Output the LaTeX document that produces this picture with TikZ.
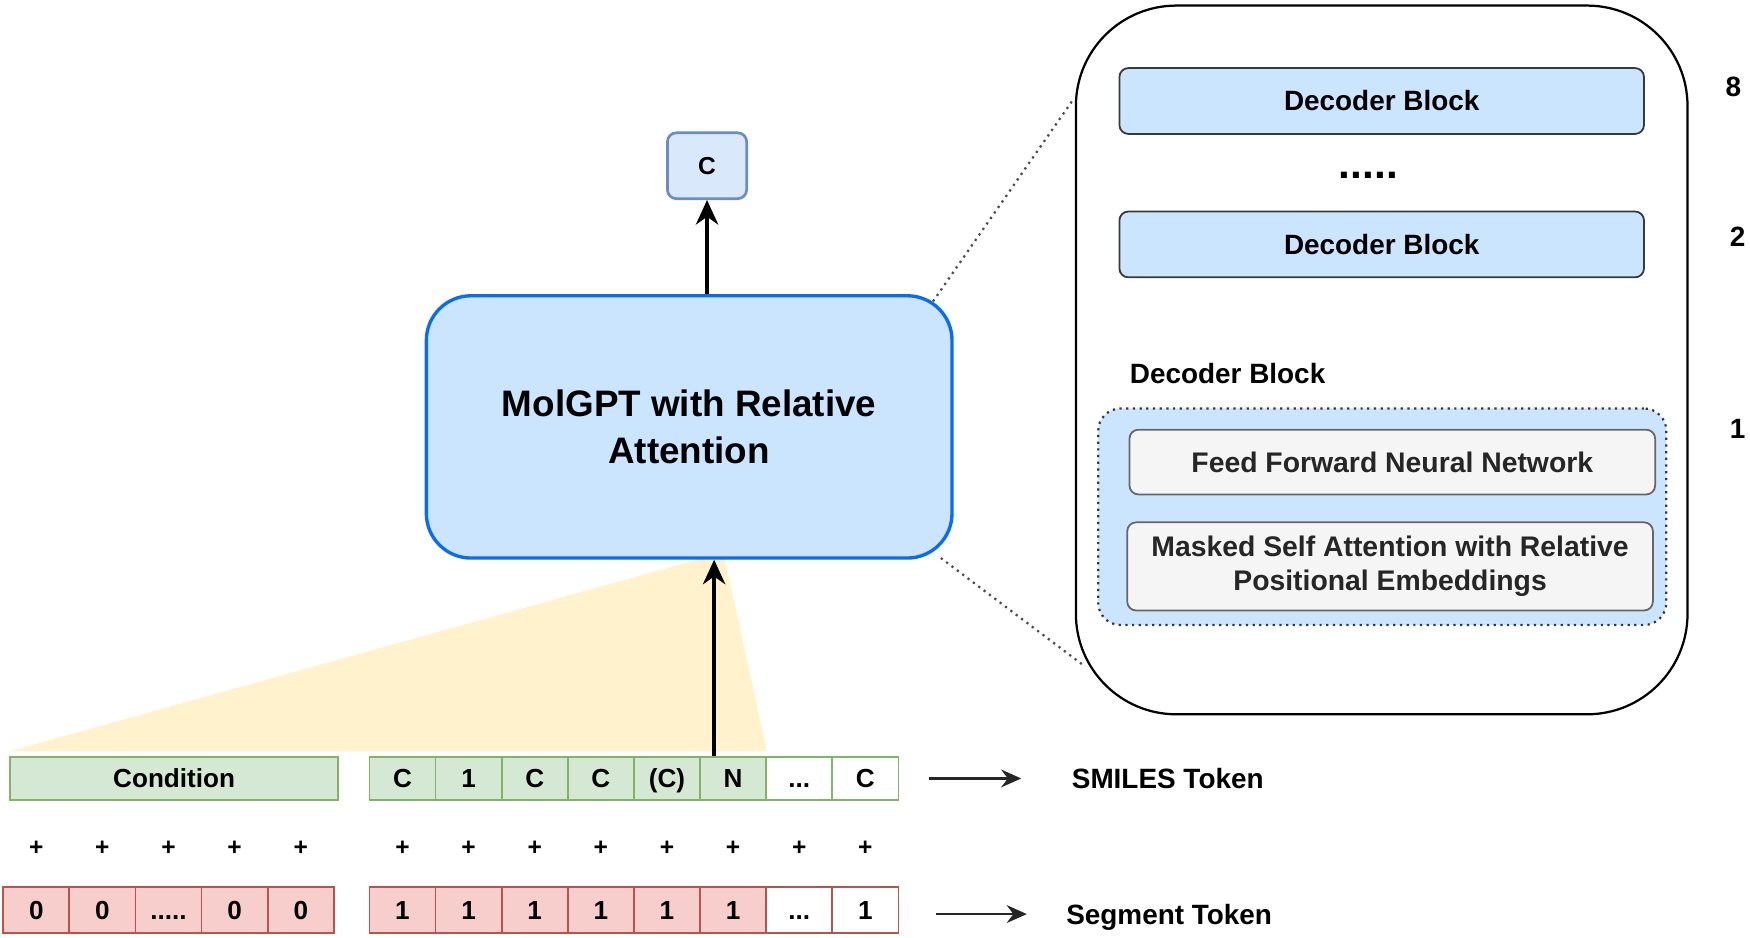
\documentclass[tikz,border=0pt]{standalone}
\usepackage{fontspec}
\setmainfont{Liberation Sans}
\usetikzlibrary{positioning, arrows.meta}

\definecolor{molfill}{HTML}{CCE5FF}
\definecolor{molline}{HTML}{0A6CF0}
\definecolor{outfill}{HTML}{DAE8FC}
\definecolor{outline}{HTML}{6C8EBF}
\definecolor{fanfill}{HTML}{FFF2CC}
\definecolor{smifill}{HTML}{D5E8D4}
\definecolor{smiline}{HTML}{82B366}
\definecolor{segfill}{HTML}{F8CECC}
\definecolor{segline}{HTML}{B85450}
\definecolor{subfill}{HTML}{F5F5F5}
\definecolor{subline}{HTML}{666666}
\definecolor{decline}{HTML}{36393D}

\begin{document}
\begin{tikzpicture}[x=0.5pt, y=-0.5pt, node distance={29.625pt},
  lbl/.style = {inner sep=0pt, font=\bfseries\fontsize{12.5}{15}\selectfont},
  cell/.style = {draw, line width=0.8pt, minimum width=29.625pt, minimum height=19.5pt, inner sep=0pt, text height=8.4pt, text depth=0pt, font=\bfseries\fontsize{11.7}{14}\selectfont},
  smi/.style = {cell, draw=smiline, fill=smifill},
  smiw/.style = {cell, draw=smiline, fill=white},
  seg/.style = {cell, draw=segline, fill=segfill, minimum height=20.5pt},
  segw/.style = {seg, fill=white},
  plussign/.style = {font=\bfseries\fontsize{11}{13}\selectfont},
  decbox/.style = {draw=decline, line width=0.8pt, fill=molfill, rounded corners=4pt, minimum width=235pt, minimum height=29.5pt, lbl},
  subbox/.style = {draw=subline, line width=0.8pt, fill=subfill, rounded corners=4pt, minimum width=235.5pt, align=center, text=black!85, font=\bfseries\fontsize{12.7}{15.5}\selectfont},
  arr/.style = {-{Stealth[length=11pt, width=10pt, inset=3.5pt]}, line width=1.5pt},
  tokarr/.style = {-{Stealth[length=9pt, width=8pt, inset=3pt]}, line width=1pt, black!85},
]
\useasboundingbox (0,0) rectangle (1568,840.4);

% SMILES tokens
\node[smi, minimum width=147pt] (cond) at (156,697.5) {Condition};
\node[smi] (t1) at (360.6,697.5) {C};
\node[smi] (t2) [right of=t1] {1};
\node[smi] (t3) [right of=t2] {C};
\node[smi] (t4) [right of=t3] {C};
\node[smi] (t5) [right of=t4] {(C)};
\node[smi] (t6) [right of=t5] {N};
\node[smiw] (t7) [right of=t6] {...};
\node[smiw] (t8) [right of=t7] {C};

% segment tokens
\node[seg] (s1) at (32.5,815.5) {0};
\node[seg] (s2) [right of=s1] {0};
\node[seg] (s3) [right of=s2] {.....};
\node[seg] (s4) [right of=s3] {0};
\node[seg] (s5) [right of=s4] {0};
\node[seg] (r1) at (360.6,815.5) {1};
\node[seg] (r2) [right of=r1] {1};
\node[seg] (r3) [right of=r2] {1};
\node[seg] (r4) [right of=r3] {1};
\node[seg] (r5) [right of=r4] {1};
\node[seg] (r6) [right of=r5] {1};
\node[segw] (r7) [right of=r6] {...};
\node[segw] (r8) [right of=r7] {1};

% plus signs
\coordinate (prow) at (0,760);
\node[plussign] (p1) at (s1 |- prow) {+};
\node[plussign] (p2) at (s2 |- prow) {+};
\node[plussign] (p3) at (s3 |- prow) {+};
\node[plussign] (p4) at (s4 |- prow) {+};
\node[plussign] (p5) at (s5 |- prow) {+};
\node[plussign] (q1) at (r1 |- prow) {+};
\node[plussign] (q2) at (r2 |- prow) {+};
\node[plussign] (q3) at (r3 |- prow) {+};
\node[plussign] (q4) at (r4 |- prow) {+};
\node[plussign] (q5) at (r5 |- prow) {+};
\node[plussign] (q6) at (r6 |- prow) {+};
\node[plussign] (q7) at (r7 |- prow) {+};
\node[plussign] (q8) at (r8 |- prow) {+};

% token labels
\node[lbl, anchor=west] (smitok) at (960,697.5) {SMILES Token};
\node[lbl, anchor=west] (segtok) at (955,822) {Segment Token};
\draw[tokarr, shorten <=13.5pt, shorten >=22.5pt] (t8.east) -- (t8.east -| smitok.west);
\draw[tokarr, shorten <=16.5pt, shorten >=17.5pt] ([yshift=-1.75pt]r8.east) -- ([yshift=-1.75pt]r8.east -| segtok.west);

% context fan
\coordinate (apex) at (648,495);
\fill[fanfill] ([yshift=2pt]cond.north west) -- ([yshift=2pt]t6.north east) -- (apex) -- cycle;

% model
\node[draw=molline, line width=1.5pt, fill=molfill, rounded corners=20pt, minimum width=235.5pt, minimum height=117.5pt, align=center, font=\bfseries\fontsize{16.5}{21}\selectfont] (molgpt) at (617.5,382.5) {MolGPT with Relative\\Attention};
\node[draw=outline, line width=1.2pt, fill=outfill, rounded corners=4pt, minimum width=35.5pt, minimum height=29.5pt, font=\bfseries\fontsize{11}{13}\selectfont] (outC) at (633.5,148.5) {C};

\draw[arr] (outC |- molgpt.north) -- (outC.south);
\coordinate (inp) at ([xshift=-8.5pt]t6.north);
\draw[arr] (inp) -- (inp |- molgpt.south);

% decoder stack
\node[draw, line width=1pt, rounded corners=45pt, minimum width=274pt, minimum height=317.5pt] (stack) at (1238,322.5) {};
\coordinate (zt1) at (836,270);
\coordinate (zt2) at (961,90);
\coordinate (zb1) at (843,500);
\coordinate (zb2) at (972,597);
\draw[dotted, line width=1pt, black!70] (zt1) -- (zt2);
\draw[dotted, line width=1pt, black!70] (zb1) -- (zb2);

\node[decbox] (dec8) at (1238,90.5) {Decoder Block};
\node[font=\bfseries\fontsize{19}{21}\selectfont] (dots) at (1226,157) {.....};
\node[decbox] (dec2) at (1238,219) {Decoder Block};
\node[lbl, anchor=west] (declbl) at (1012,335) {Decoder Block};
\node[draw=decline, dotted, line width=1pt, fill=molfill, rounded corners=10pt, minimum width=254.5pt, minimum height=97pt] (blk1) at (1238.5,463) {};
\node[subbox, minimum height=29pt] (ffn) at (1247.5,414) {Feed Forward Neural Network};
\node[subbox, minimum height=39.5pt] (msa) at (1245.5,507.5) {Masked Self Attention with Relative\\Positional Embeddings};

\node[lbl] (n8) at (1553,78) {8};
\node[lbl] (n2) at (1557,212) {2};
\node[lbl] (n1) at (1557,384) {1};

\end{tikzpicture}
\end{document}
